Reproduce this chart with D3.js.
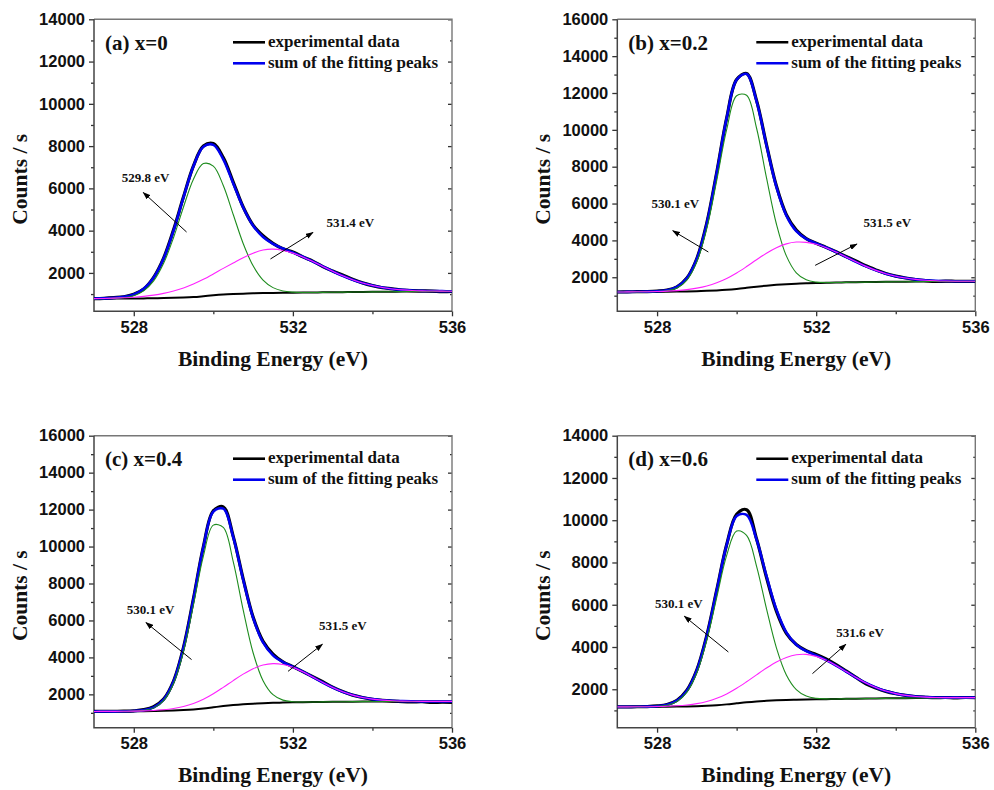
<!DOCTYPE html>
<html>
<head>
<meta charset="utf-8">
<script src="https://cdn.jsdelivr.net/npm/d3@7"></script>
<style>
  body { margin: 0; background: #fff; }
  .tick text { font-family: "Liberation Sans", Arial, sans-serif; font-weight: bold; font-size: 16.5px; fill: #111; }
  .tick line { stroke: #333; stroke-width: 1.3; }
  .serif { font-family: "Liberation Serif", "Times New Roman", serif; font-weight: bold; fill: #111; }
</style>
</head>
<body>
<svg id="chart" width="994" height="790"></svg>
<script>
// binding energy grid (eV), shared by every curve
var energy = [527, 527.25, 527.5, 527.75, 528, 528.25, 528.5, 528.75, 529, 529.25, 529.5, 529.75,
  530, 530.25, 530.5, 530.75, 531, 531.25, 531.5, 531.75, 532, 532.25, 532.5, 532.75,
  533, 533.25, 533.5, 533.75, 534, 534.25, 534.5, 534.75, 535, 535.25, 535.5, 535.75, 536];

// (a) x=0
var bgA = [780,782,785,788,790,795,800,808,820,836,860,898,940,975,1000,1020,1035,1044,1050,1056,1062,1068,1074,1080,1085,1090,1095,1100,1105,1109,1112,1115,1120,1123,1125,1128,1130];
var p1A = [0,3,12,43,132,354,820,1645,2855,4285,5575,6275,6110,5160,3765,2375,1300,617,254,90,28,7,0,0,0,0,0,0,0,0,0,0,0,0,0,0,0];
var p2A = [6,11,21,37,60,97,150,225,325,455,615,800,1010,1240,1470,1700,1900,2040,2074,2007,1874,1689,1467,1229,994,774,582,423,296,200,130,82,49,29,16,9,5];
var sumA = [788,796,818,868,982,1246,1770,2678,4000,5576,7050,7973,8060,7375,6235,5095,4235,3701,3378,3153,2964,2764,2541,2309,2079,1864,1677,1523,1401,1309,1242,1197,1169,1152,1141,1137,1135];
var expA = [780,800,830,870,990,1240,1790,2700,4040,5600,7060,8000,8120,7460,6300,5120,4260,3760,3400,3140,2990,2760,2560,2300,2090,1900,1700,1530,1400,1300,1250,1190,1160,1150,1140,1110,1120];

// (b) x=0.2
var bgB = [1200,1203,1206,1210,1214,1218,1224,1232,1245,1262,1285,1318,1365,1425,1490,1545,1590,1625,1650,1670,1688,1700,1712,1722,1730,1738,1745,1750,1755,1759,1763,1767,1770,1772,1774,1776,1778];
var p1B = [0,0,0,2,12,52,198,617,1590,3390,5970,8705,10485,10450,8610,5860,3300,1535,593,189,49,11,2,0,0,0,0,0,0,0,0,0,0,0,0,0,0];
var p2B = [0,1,3,6,14,27,52,95,164,267,416,615,866,1155,1462,1761,2014,2188,2260,2224,2101,1906,1657,1383,1108,852,629,445,303,198,123,74,43,24,13,6,3];
var sumB = [1200,1204,1209,1218,1240,1297,1474,1944,2999,4919,7671,10638,12716,13030,11562,9166,6904,5348,4503,4083,3838,3617,3371,3105,2838,2590,2374,2195,2058,1957,1886,1841,1813,1796,1787,1782,1781];
var expB = [1200,1210,1215,1225,1250,1300,1480,1960,3020,4950,7700,10650,12730,13060,11600,9200,6950,5400,4560,4100,3850,3620,3380,3130,2880,2620,2400,2200,2060,1960,1880,1820,1770,1790,1780,1775,1780];

// (c) x=0.4
var bgC = [1075,1077,1079,1082,1085,1090,1097,1108,1125,1150,1185,1235,1300,1365,1420,1463,1495,1520,1540,1556,1568,1578,1586,1592,1597,1601,1605,1608,1611,1613,1615,1616,1617,1618,1619,1620,1620];
var p1C = [0,0,0,2,9,43,171,553,1463,3176,5651,8246,9860,9669,7766,5110,2756,1222,443,131,32,6,0,0,0,0,0,0,0,0,0,0,0,0,0,0,0];
var p2C = [0,0,1,3,6,14,29,57,107,190,316,494,729,1014,1325,1631,1892,2066,2124,2061,1893,1644,1350,1049,773,538,354,220,130,72,38,19,9,4,2,1,0];
var sumC = [1075,1077,1080,1087,1100,1147,1297,1718,2695,4516,7152,9975,11889,12048,10511,8204,6143,4808,4107,3748,3493,3228,2936,2641,2370,2139,1959,1828,1741,1685,1653,1635,1626,1622,1621,1621,1620];
var expC = [1075,1080,1085,1090,1110,1170,1330,1740,2720,4540,7180,10000,11940,12150,10550,8250,6180,4870,4180,3760,3500,3230,2960,2680,2390,2150,1960,1830,1730,1670,1630,1600,1590,1600,1560,1580,1570];

// (d) x=0.6
var bgD = [1165,1166,1168,1170,1172,1175,1180,1188,1200,1218,1245,1285,1335,1385,1425,1455,1477,1494,1507,1517,1525,1532,1540,1547,1553,1559,1565,1570,1575,1580,1584,1588,1592,1595,1598,1600,1602];
var p1D = [0,0,0,4,18,72,241,674,1579,3100,5108,7049,8150,7896,6407,4359,2484,1184,477,160,45,11,2,0,0,0,0,0,0,0,0,0,0,0,0,0,0];
var p2D = [0,1,2,4,9,19,38,70,122,206,328,495,711,970,1258,1548,1812,2013,2126,2133,2031,1838,1581,1292,1003,740,519,345,218,131,75,41,21,10,5,2,1];
var sumD = [1165,1167,1170,1178,1199,1266,1459,1932,2901,4524,6681,8829,10196,10251,9090,7362,5773,4691,4110,3810,3601,3381,3123,2839,2556,2299,2084,1915,1793,1711,1659,1629,1613,1605,1603,1602,1603];
var expD = [1165,1170,1172,1180,1210,1280,1480,1960,2920,4550,6700,8850,10280,10500,9120,7300,5700,4650,4120,3830,3650,3440,3170,2870,2560,2260,2060,1900,1790,1710,1650,1620,1600,1610,1590,1610,1600];

var panelLabels = ["(a) x=0", "(b) x=0.2", "(c) x=0.4", "(d) x=0.6"];
var yMax = [14000, 16000, 16000, 14000];
var yMin = [184, 152, 195, 181];
var xMajor = [528, 532, 536];
var xMinor = [530, 534];
var yMajor14 = [2000, 4000, 6000, 8000, 10000, 12000, 14000];
var yMinor14 = [1000, 3000, 5000, 7000, 9000, 11000, 13000];
var yMajor16 = [2000, 4000, 6000, 8000, 10000, 12000, 14000, 16000];
var yMinor16 = [1000, 3000, 5000, 7000, 9000, 11000, 13000, 15000];
var legendNames = ["experimental data", "sum of the fitting peaks"];

// peak annotations: [label, label E, label counts, arrow from E, from counts, to E, to counts]
var peakNotes = [
  [["529.8 eV", 527.695, 6279, 529.327, 3936, 528.238, 5807], ["531.4 eV", 532.842, 4172, 531.436, 2660, 532.506, 3917]],
  [["530.1 eV", 527.861, 5756, 529.289, 3371, 528.394, 4526], ["531.5 eV", 533.189, 4705, 531.974, 2645, 533.023, 3805]],
  [["530.1 eV", 527.821, 6374, 529.453, 3881, 528.306, 5886], ["531.5 eV", 532.657, 5507, 531.878, 3247, 532.742, 4710]],
  [["530.1 eV", 527.948, 5868, 529.792, 3764, 528.686, 5456], ["531.6 eV", 532.502, 4475, 531.906, 2740, 532.746, 4129]]
];

var series = [
  { bg: bgA, p1: p1A, p2: p2A, sum: sumA, exp: expA },
  { bg: bgB, p1: p1B, p2: p2B, sum: sumB, exp: expB },
  { bg: bgC, p1: p1C, p2: p2C, sum: sumC, exp: expC },
  { bg: bgD, p1: p1D, p2: p2D, sum: sumD, exp: expD }
];

var panelLeft = [94, 617.3, 94, 617.3];
var panelTop = [19.3, 19.3, 435.7, 435.7];
var w = 358, h = 292;

var svg = d3.select("#chart");
var defs = svg.append("defs");
defs.append("marker")
  .attr("id", "arrowHead")
  .attr("viewBox", "0 0 10 7")
  .attr("refX", 9).attr("refY", 3.5)
  .attr("markerWidth", 8).attr("markerHeight", 5.6)
  .attr("markerUnits", "userSpaceOnUse")
  .attr("orient", "auto")
  .append("path").attr("d", "M0,0L10,3.5L0,7z").attr("fill", "#000");

series.forEach(function(s, i) {
  var x = d3.scaleLinear().domain([527, 536]).range([0, w]);
  var y = d3.scaleLinear().domain([yMin[i], yMax[i]]).range([h, 0]);
  var g = svg.append("g").attr("transform", "translate(" + panelLeft[i] + "," + panelTop[i] + ")");

  defs.append("clipPath").attr("id", "clip" + i)
    .append("rect").attr("width", w).attr("height", h);

  var major = yMax[i] === 14000 ? yMajor14 : yMajor16;
  var minor = yMax[i] === 14000 ? yMinor14 : yMinor16;

  // axes (outward on left/bottom, inward on right)
  g.append("g").attr("transform", "translate(0," + h + ")")
    .call(d3.axisBottom(x).tickValues(xMajor).tickSize(5).tickPadding(5).tickFormat(d3.format("d")))
    .call(function(a) { a.select(".domain").remove(); });
  g.append("g").attr("transform", "translate(0," + h + ")")
    .call(d3.axisBottom(x).tickValues(xMinor).tickSize(3).tickFormat(""))
    .call(function(a) { a.select(".domain").remove(); });
  g.append("g")
    .call(d3.axisLeft(y).tickValues(major).tickSize(5).tickPadding(4).tickFormat(d3.format("d")))
    .call(function(a) { a.select(".domain").remove(); });
  g.append("g")
    .call(d3.axisLeft(y).tickValues(minor).tickSize(3).tickFormat(""))
    .call(function(a) { a.select(".domain").remove(); });
  g.append("g").attr("transform", "translate(" + w + ",0)")
    .call(d3.axisLeft(y).tickValues(major).tickSize(4).tickFormat(""))
    .call(function(a) { a.select(".domain").remove(); a.selectAll("line").attr("stroke", "#777"); });
  g.append("g").attr("transform", "translate(" + w + ",0)")
    .call(d3.axisLeft(y).tickValues(minor).tickSize(2).tickFormat(""))
    .call(function(a) { a.select(".domain").remove(); a.selectAll("line").attr("stroke", "#777"); });

  // frame
  g.append("path").attr("d", "M0,0H" + w + "V" + h).attr("fill", "none").attr("stroke", "#777").attr("stroke-width", 1.4);
  g.append("path").attr("d", "M0,0V" + h + "H" + w).attr("fill", "none").attr("stroke", "#444").attr("stroke-width", 1.5);

  var line = d3.line()
    .x(function(d, j) { return x(energy[j]); })
    .y(function(d) { return y(d); })
    .curve(d3.curveCatmullRom);

  var plot = g.append("g").attr("clip-path", "url(#clip" + i + ")");
  var peak1 = s.p1.map(function(v, j) { return v + s.bg[j]; });
  var peak2 = s.p2.map(function(v, j) { return v + s.bg[j]; });

  plot.append("path").attr("d", line(s.exp)).attr("fill", "none").attr("stroke", "#000").attr("stroke-width", 3.2);
  plot.append("path").attr("d", line(s.bg)).attr("fill", "none").attr("stroke", "#000").attr("stroke-width", 2);
  plot.append("path").attr("d", line(s.sum)).attr("fill", "none").attr("stroke", "#0000ee").attr("stroke-width", 2.6);
  plot.append("path").attr("d", line(peak1)).attr("fill", "none").attr("stroke", "#1e8c1e").attr("stroke-width", 1.1);
  plot.append("path").attr("d", line(peak2)).attr("fill", "none").attr("stroke", "#ff22ff").attr("stroke-width", 1.1);

  // peak annotations
  peakNotes[i].forEach(function(n) {
    g.append("text").attr("class", "serif").attr("x", x(n[1])).attr("y", y(n[2]))
      .style("font-size", "13px").text(n[0]);
    g.append("line")
      .attr("x1", x(n[3])).attr("y1", y(n[4]))
      .attr("x2", x(n[5])).attr("y2", y(n[6]))
      .attr("stroke", "#000").attr("stroke-width", 1)
      .attr("marker-end", "url(#arrowHead)");
  });

  // panel label
  g.append("text").attr("class", "serif").attr("x", 11).attr("y", 30.7)
    .style("font-size", "21px").text(panelLabels[i]);

  // legend
  var legendColors = ["#000", "#0000ee"];
  legendNames.forEach(function(name, k) {
    var ly = 23 + k * 21;
    g.append("line").attr("x1", 139).attr("x2", 171).attr("y1", ly).attr("y2", ly)
      .attr("stroke", legendColors[k]).attr("stroke-width", 2.6);
    g.append("text").attr("class", "serif").attr("x", 174).attr("y", ly + 4.6)
      .style("font-size", "17px").text(name);
  });

  // axis titles
  g.append("text").attr("class", "serif").attr("x", w / 2).attr("y", h + 54.5)
    .attr("text-anchor", "middle").style("font-size", "21.5px").text("Binding Energy (eV)");
  g.append("text").attr("class", "serif")
    .attr("transform", "translate(-67," + 160 + ") rotate(-90)")
    .attr("text-anchor", "middle").style("font-size", "21.5px").text("Counts / s");
});
</script>
</body>
</html>
